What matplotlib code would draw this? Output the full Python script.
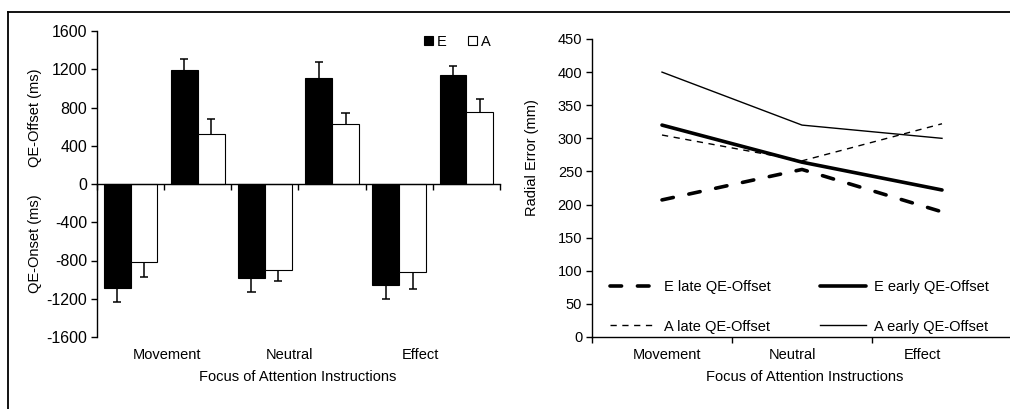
import numpy as np
import matplotlib
matplotlib.use("Agg")
import matplotlib.pyplot as plt
from matplotlib.patches import Patch
from matplotlib.lines import Line2D
import matplotlib.transforms as mtransforms

plt.rcParams['font.family'] = ['Liberation Sans', 'DejaVu Sans']
plt.rcParams['font.size'] = 10.5

# left panel data (ms)
categories = ['Movement', 'Neutral', 'Effect']
onset_E = [-1090, -985, -1055]
onset_A = [-820, -900, -920]
offset_E = [1190, 1110, 1140]
offset_A = [520, 625, 750]
onset_E_err = [145, 145, 145]
onset_A_err = [150, 110, 175]
offset_E_err = [115, 165, 95]
offset_A_err = [155, 115, 135]
left_ticks = [-1600, -1200, -800, -400, 0, 400, 800, 1200, 1600]

# right panel data (mm)
e_late = [207, 253, 189]
e_early = [320, 264, 222]
a_late = [305, 266, 322]
a_early = [400, 320, 300]
right_ticks = [0, 50, 100, 150, 200, 250, 300, 350, 400, 450]

W, H = 1010, 409
fig = plt.figure(figsize=(W / 100, H / 100), dpi=100)

# outer frame (only left and top edges visible)
fig.add_artist(Line2D([8 / W, 8 / W], [-0.05, 1 - 12 / H], transform=fig.transFigure,
                      color='black', linewidth=1.3))
fig.add_artist(Line2D([8 / W, 1.05], [1 - 12 / H, 1 - 12 / H], transform=fig.transFigure,
                      color='black', linewidth=1.3))


def err_bars(ax, xs, vals, errs, sign, cap=0.06):
    ends = [v + sign * e for v, e in zip(vals, errs)]
    ax.vlines(xs, vals, ends, color='black', linewidth=1.1, zorder=3)
    ax.hlines(ends, xs - cap, xs + cap, color='black', linewidth=1.1, zorder=3)


# ---------- left panel ----------
ax = fig.add_axes([97 / W, 72 / H, 403 / W, 306 / H])
n = len(categories)
slots = np.arange(2 * n)
onset_x = slots[0::2]
offset_x = slots[1::2]
bw = 0.4
ax.bar(onset_x - bw / 2, onset_E, bw, color='black', edgecolor='black', linewidth=0.8)
ax.bar(onset_x + bw / 2, onset_A, bw, color='white', edgecolor='black', linewidth=0.8)
ax.bar(offset_x - bw / 2, offset_E, bw, color='black', edgecolor='black', linewidth=0.8)
ax.bar(offset_x + bw / 2, offset_A, bw, color='white', edgecolor='black', linewidth=0.8)
err_bars(ax, onset_x - bw / 2, onset_E, onset_E_err, -1)
err_bars(ax, onset_x + bw / 2, onset_A, onset_A_err, -1)
err_bars(ax, offset_x - bw / 2, offset_E, offset_E_err, 1)
err_bars(ax, offset_x + bw / 2, offset_A, offset_A_err, 1)

ax.set_xlim(-0.5, 2 * n - 0.5)
ax.set_ylim(-1600, 1600)
ax.set_yticks(left_ticks)
ax.set_yticklabels([str(t) for t in left_ticks], fontsize=11.5)
ax.set_xticks(np.arange(-0.5, 2 * n, 1.0))
ax.set_xticklabels([])
ax.spines['top'].set_visible(False)
ax.spines['right'].set_visible(False)
ax.spines['bottom'].set_position(('data', 0))
for s in ['left', 'bottom']:
    ax.spines[s].set_linewidth(1.0)
ax.tick_params(axis='both', direction='out', length=4, width=1.0, colors='black')
ax.tick_params(axis='y', pad=3)

trans = mtransforms.blended_transform_factory(ax.transData, fig.transFigure)
label_pos = [0.54, 2.37, 4.32]
for x, c in zip(label_pos, categories):
    ax.text(x, 1 - 355 / H, c, transform=trans, ha='center', va='center')
fig.text(298 / W, 1 - 377 / H, 'Focus of Attention Instructions', ha='center', va='center')
fig.text(35 / W, 1 - 118 / H, 'QE-Offset (ms)', rotation=90, ha='center', va='center')
fig.text(35 / W, 1 - 244 / H, 'QE-Onset (ms)', rotation=90, ha='center', va='center')

handles = [Patch(facecolor='black', edgecolor='black', linewidth=0.8, label='E'),
           Patch(facecolor='white', edgecolor='black', linewidth=0.8, label='A')]
ax.legend(handles=handles, ncol=2, loc='center left', frameon=False,
          bbox_to_anchor=(424 / W, 1 - 42 / H), bbox_transform=fig.transFigure,
          handlelength=0.6, handleheight=0.6, handletextpad=0.3, columnspacing=1.45,
          borderpad=0, borderaxespad=0)

# ---------- right panel ----------
ax2 = fig.add_axes([592 / W, 72 / H, 420 / W, 298 / H])
xs = np.arange(n)
ax2.plot(xs, e_late, color='black', linewidth=2.6, dashes=(3.2, 4.4),
         dash_capstyle='round', label='E late QE-Offset')
ax2.plot(xs, a_late, color='black', linewidth=1.0, dashes=(4.5, 4.0),
         label='A late QE-Offset')
ax2.plot(xs, e_early, color='black', linewidth=2.6, solid_capstyle='round',
         label='E early QE-Offset')
ax2.plot(xs, a_early, color='black', linewidth=1.0, label='A early QE-Offset')

ax2.set_xlim(-0.5, n - 0.5)
ax2.set_ylim(0, 450)
ax2.set_yticks(right_ticks)
ax2.set_xticks(np.arange(-0.5, n, 1.0))
ax2.set_xticklabels([])
ax2.tick_params(axis='x', direction='out', length=4, width=1.0)
ax2.tick_params(axis='y', direction='out', length=4, width=1.0, pad=3)
ax2.spines['top'].set_visible(False)
ax2.spines['right'].set_visible(False)
for s in ['left', 'bottom']:
    ax2.spines[s].set_linewidth(1.0)

trans2 = mtransforms.blended_transform_factory(ax2.transData, fig.transFigure)
label_pos2 = [0.036, 0.93, 1.86]
for x, c in zip(label_pos2, categories):
    ax2.text(x, 1 - 355 / H, c, transform=trans2, ha='center', va='center')
fig.text(805 / W, 1 - 377 / H, 'Focus of Attention Instructions', ha='center', va='center')
fig.text(532 / W, 1 - 158 / H, 'Radial Error (mm)', rotation=90, ha='center', va='center')

ax2.legend(ncol=2, loc='upper left', frameon=False,
           bbox_to_anchor=(610 / W, 1 - 280 / H), bbox_transform=fig.transFigure,
           handlelength=3.1, handletextpad=0.6, columnspacing=3.4, labelspacing=1.75,
           borderpad=0, borderaxespad=0)

fig.savefig('out.png', dpi=100)
